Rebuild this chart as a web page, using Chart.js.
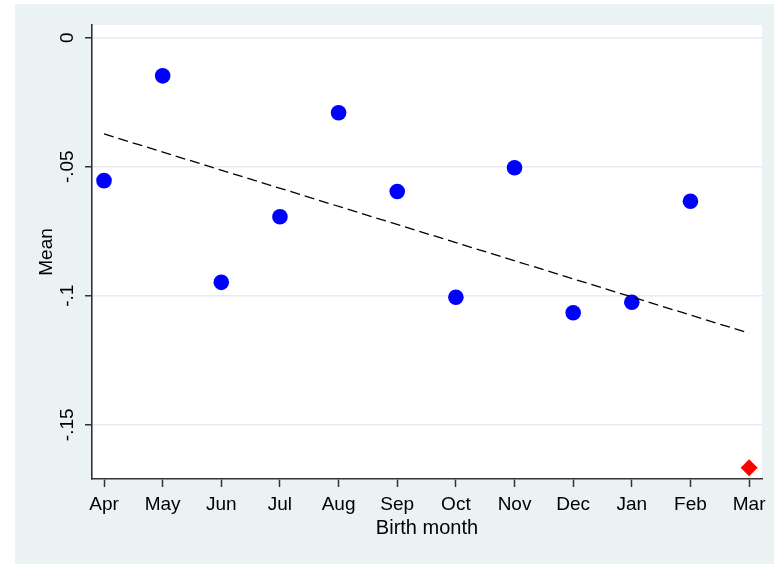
<!DOCTYPE html>
<html>
<head>
<meta charset="utf-8">
<script src="https://cdn.jsdelivr.net/npm/chart.js@4/dist/chart.umd.min.js"></script>
<style>
  html, body { margin: 0; padding: 0; background: #ffffff; }
  #frame {
    position: absolute; left: 15px; top: 4px;
    width: 759px; height: 560px;
    background: #eaf2f3;
  }
  canvas { display: block; }
</style>
</head>
<body>
<div id="frame"><canvas id="chart" width="759" height="560"></canvas></div>
<script>
// Birth months, April through March
const months = ['Apr', 'May', 'Jun', 'Jul', 'Aug', 'Sep', 'Oct', 'Nov', 'Dec', 'Jan', 'Feb', 'Mar'];
// Mean outcome by birth month
const meanValues = [-0.0554, -0.0148, -0.0948, -0.0694, -0.0291, -0.0596,
                    -0.1006, -0.0504, -0.1066, -0.1025, -0.0634, -0.1666];
// Month drawn as the highlighted (red diamond) point
const highlightMonth = 'Mar';
// Linear fit: fitted means at the first and last month
const fitMonths = ['Apr', 'Mar'];
const fitValues = [-0.0373, -0.1145];
// Y axis ticks
const yTickValues = [0, -0.05, -0.1, -0.15];
const yTickLabels = ['0', '-.05', '-.1', '-.15'];

const FONT = '"Liberation Sans", Arial, Helvetica, sans-serif';
const AXIS_COLOR = '#333333';
const GRID_COLOR = '#e4ecef';

const mainPoints = [];
const highlightPoints = [];
months.forEach((m, i) => {
  const p = { x: i, y: meanValues[i] };
  (m === highlightMonth ? highlightPoints : mainPoints).push(p);
});
const fitPoints = fitMonths.map((m, i) => ({ x: months.indexOf(m), y: fitValues[i] }));

// White plot region and rotated y tick labels
const plotDecor = {
  id: 'plotDecor',
  beforeDraw(chart) {
    const { ctx, chartArea: a } = chart;
    ctx.save();
    ctx.fillStyle = '#ffffff';
    ctx.fillRect(a.left, a.top, a.right - a.left, a.bottom - a.top);
    ctx.restore();
  },
  afterDraw(chart) {
    const { ctx, chartArea: a, scales: { y } } = chart;
    ctx.save();
    ctx.font = '19px ' + FONT;
    ctx.fillStyle = '#000000';
    ctx.textAlign = 'center';
    ctx.textBaseline = 'middle';
    yTickValues.forEach((v, i) => {
      ctx.save();
      ctx.translate(a.left - 24, y.getPixelForValue(v));
      ctx.rotate(-Math.PI / 2);
      ctx.fillText(yTickLabels[i], 0, 0);
      ctx.restore();
    });
    ctx.restore();
  }
};

new Chart(document.getElementById('chart'), {
  type: 'scatter',
  data: {
    datasets: [
      {
        label: 'Fitted values',
        data: fitPoints,
        showLine: true,
        borderColor: '#000000',
        borderWidth: 1.3,
        borderDash: [10, 5],
        pointRadius: 0,
        fill: false
      },
      {
        label: 'Mean',
        data: mainPoints,
        pointStyle: 'circle',
        pointRadius: 7.8,
        pointBackgroundColor: '#0000ff',
        pointBorderWidth: 0,
        borderColor: '#0000ff'
      },
      {
        label: highlightMonth,
        data: highlightPoints,
        pointStyle: 'rectRot',
        pointRadius: 8.5,
        pointBackgroundColor: '#ff0000',
        pointBorderWidth: 0,
        borderColor: '#ff0000'
      }
    ]
  },
  options: {
    responsive: false,
    animation: false,
    layout: { padding: { top: 21, right: 12, left: 0, bottom: 0 } },
    plugins: { legend: { display: false }, tooltip: { enabled: false } },
    scales: {
      x: {
        type: 'linear',
        min: -0.205,
        max: 11.22,
        afterBuildTicks: s => { s.ticks = months.map((m, i) => ({ value: i })); },
        afterFit: s => { s.height = 85; },
        ticks: {
          autoSkip: false,
          maxRotation: 0,
          minRotation: 0,
          padding: 6,
          color: '#000000',
          font: { family: FONT, size: 19 },
          callback: v => months[v]
        },
        grid: {
          drawOnChartArea: false,
          drawTicks: true,
          tickLength: 8,
          tickColor: AXIS_COLOR,
          tickWidth: 1.5
        },
        border: { display: true, color: AXIS_COLOR, width: 1.6 },
        title: {
          display: true,
          text: 'Birth month',
          color: '#000000',
          font: { family: FONT, size: 20 },
          padding: { top: 0, bottom: 23.3 }
        }
      },
      y: {
        min: -0.171,
        max: 0.0049,
        afterBuildTicks: s => { s.ticks = yTickValues.map(v => ({ value: v })); },
        afterFit: s => { s.width = 77; },
        ticks: { display: false },
        grid: {
          color: GRID_COLOR,
          lineWidth: 1.5,
          drawTicks: true,
          tickLength: 7,
          tickColor: AXIS_COLOR,
          tickWidth: 1.5
        },
        border: { display: true, color: AXIS_COLOR, width: 1.6 },
        title: {
          display: true,
          text: 'Mean',
          color: '#000000',
          font: { family: FONT, size: 19 },
          padding: { top: 20.4, bottom: 0 }
        }
      }
    }
  },
  plugins: [plotDecor]
});
</script>
</body>
</html>
